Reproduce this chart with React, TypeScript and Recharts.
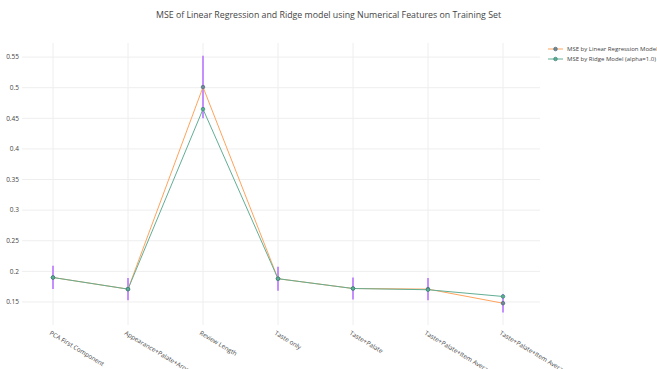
import { LineChart, Line, XAxis, YAxis, ReferenceLine, ErrorBar } from "recharts";

// Feature sets evaluated on the training set
const featureSets = [
  "PCA First Component",
  "Appearance+Palate+Aroma",
  "Review Length",
  "Taste only",
  "Taste+Palate",
  "Taste+Palate+Item Average",
  "Taste+Palate+Item Average+Review Length",
];

const linearMse = [0.19, 0.171, 0.501, 0.188, 0.172, 0.171, 0.148];
const ridgeMse = [0.19, 0.171, 0.465, 0.188, 0.172, 0.17, 0.159];
const linearMseStd = [0.019, 0.018, 0.051, 0.0195, 0.018, 0.018, 0.015];

const yTicks = [0.15, 0.2, 0.25, 0.3, 0.35, 0.4, 0.45, 0.5, 0.55];

const data = featureSets.map((name, i) => ({
  name,
  linear: linearMse[i],
  ridge: ridgeMse[i],
  std: linearMseStd[i],
}));

const FONT = "'Open Sans', 'Noto Sans', sans-serif";
const TEXT = "#444";
const GRID = "#eeeeee";
const ORANGE = "#ffa35c";
const TEAL = "#62ae94";
const ERR = "#b56cff";

const RotatedTick = (props: any) => {
  const { x, y, payload } = props;
  return (
    <g transform={`translate(${x - 2},${y + 4}) rotate(31)`}>
      <text x={0} y={0} dy="0.6em" textAnchor="start" fill={TEXT} fontSize={6.3} fontFamily={FONT}>
        {payload.value}
      </text>
    </g>
  );
};

const legendItems = [
  { label: "MSE by Linear Regression Model", color: ORANGE, dot: "#6f8a98", dotStroke: "#4d6676" },
  { label: "MSE by Ridge Model (alpha=1.0)", color: TEAL, dot: "#58b093", dotStroke: "#3f8078" },
];

export default function App() {
  return (
    <div style={{ position: "fixed", left: 0, top: 0, width: 657, height: 369, background: "#fff", overflow: "hidden" }}>
      <div
        style={{
          position: "absolute",
          top: 9,
          left: 0,
          width: 657,
          textAlign: "center",
          fontFamily: FONT,
          fontSize: 8.8,
          color: TEXT,
        }}
      >
        MSE of Linear Regression and Ridge model using Numerical Features on Training Set
      </div>
      <div style={{ position: "absolute", left: 548, top: 44, fontFamily: FONT, fontSize: 6, color: TEXT }}>
        {legendItems.map((it) => (
          <div key={it.label} style={{ display: "flex", alignItems: "center", height: 10, whiteSpace: "nowrap" }}>
            <svg width={16} height={10} style={{ marginRight: 3 }}>
              <line x1={0} y1={5} x2={15} y2={5} stroke={it.color} strokeWidth={1} />
              <circle cx={7.5} cy={5} r={1.8} fill={it.dot} stroke={it.dotStroke} strokeWidth={0.7} />
            </svg>
            <span>{it.label}</span>
          </div>
        ))}
      </div>
      <LineChart width={657} height={369} data={data} margin={{ top: 43, right: 117, bottom: 0, left: 0 }}>
        <XAxis
          dataKey="name"
          interval={0}
          padding={{ left: 31, right: 37 }}
          height={44}
          tickLine={false}
          axisLine={false}
          tickSize={0}
          tick={<RotatedTick />}
        />
        <YAxis
          type="number"
          domain={[0.1124, 0.573]}
          ticks={yTicks}
          width={22}
          tickLine={false}
          axisLine={false}
          tickSize={0}
          tickMargin={3}
          tick={{ fill: TEXT, fontSize: 6.5, fontFamily: FONT }}
          tickFormatter={(v: number) => String(Number(v.toFixed(2)))}
        />
        {/* grid: one line per category and per y tick, no frame */}
        {featureSets.map((n) => (
          <ReferenceLine key={n} x={n} stroke={GRID} strokeWidth={1} />
        ))}
        {yTicks.map((t) => (
          <ReferenceLine key={t} y={t} stroke={GRID} strokeWidth={1} />
        ))}
        <Line
          type="linear"
          dataKey="linear"
          stroke={ORANGE}
          strokeWidth={1}
          isAnimationActive={false}
          dot={{ r: 1.8, fill: "#6f8a98", stroke: "#4d6676", strokeWidth: 0.7 }}
        >
          <ErrorBar dataKey="std" direction="y" width={0} stroke={ERR} strokeWidth={1.5} />
        </Line>
        <Line
          type="linear"
          dataKey="ridge"
          stroke={TEAL}
          strokeWidth={1}
          isAnimationActive={false}
          dot={{ r: 1.8, fill: "#58b093", stroke: "#3f8078", strokeWidth: 0.7 }}
        />
      </LineChart>
    </div>
  );
}
